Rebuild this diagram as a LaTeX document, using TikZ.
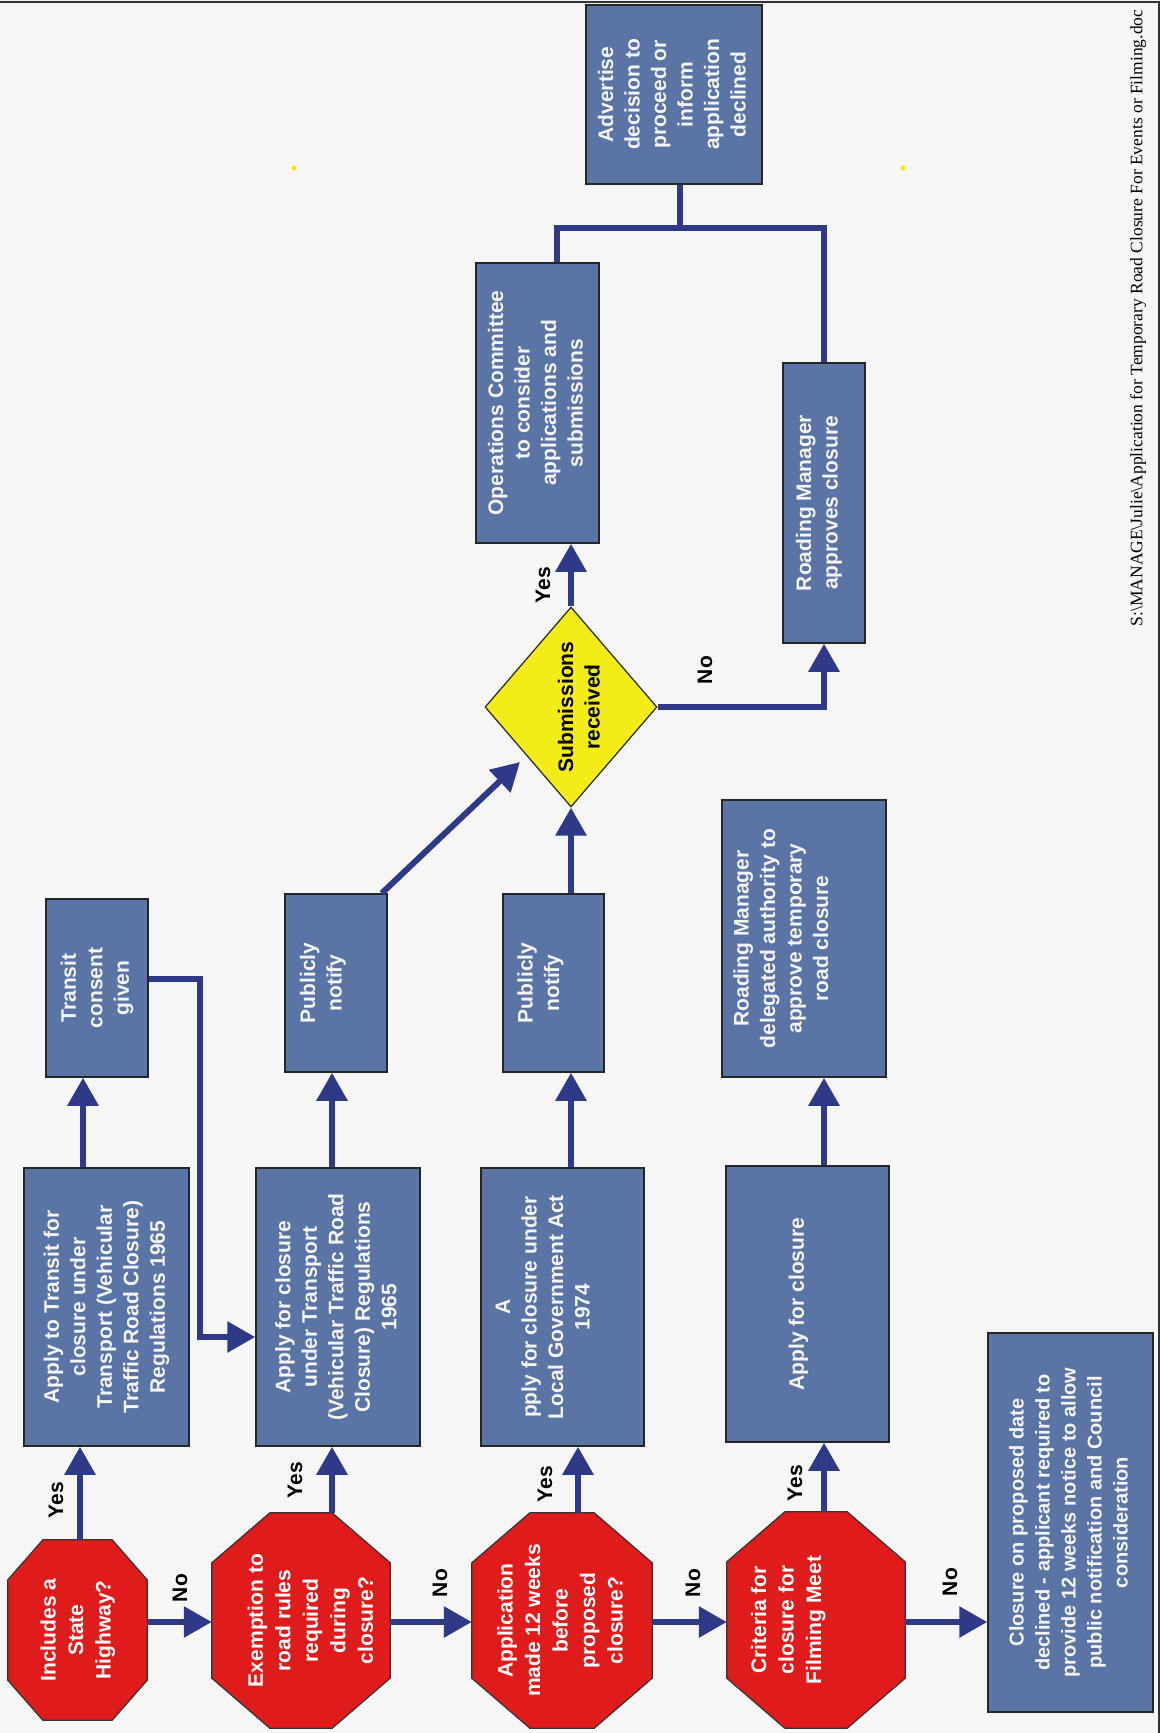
\documentclass[tikz,border=0pt]{standalone}
\usepackage{fontspec}
\setmainfont{Liberation Sans}
\newfontfamily\serifft{Liberation Serif}
\usepackage{graphicx}
\usetikzlibrary{arrows.meta,shapes.geometric,backgrounds,calc}
\definecolor{boxblue}{HTML}{5B74A6}
\definecolor{linecol}{HTML}{2E3A87}
\definecolor{octred}{HTML}{E01B1B}
\definecolor{diayel}{HTML}{F3EC19}
\definecolor{paper}{HTML}{F6F6F7}
\definecolor{txtw}{HTML}{F4F4F4}
\newcommand\rt[1]{\rotatebox{90}{\begin{tabular}{@{}c@{}}#1\end{tabular}}}
\newcommand\rtlow[2]{\rotatebox{90}{\raisebox{-#1}[\height][\depth]{\begin{tabular}{@{}c@{}}#2\end{tabular}}}}
\newcommand\octpath[3]{%
  \path[octshape] ([xshift=#2]#1.north west) -- ([xshift=-#2]#1.north east)
   -- ([yshift=-#3]#1.north east) -- ([yshift=#3]#1.south east)
   -- ([xshift=-#2]#1.south east) -- ([xshift=#2]#1.south west)
   -- ([yshift=#3]#1.south west) -- ([yshift=-#3]#1.north west) -- cycle;}
\tikzset{
  fbox/.style={rectangle, draw=black!85, line width=1.5pt, fill=boxblue, text=txtw,
    inner sep=0pt, font=\fontsize{21}{26.5}\selectfont\bfseries},
  oct/.style={rectangle, inner sep=0pt, text=white, font=\fontsize{21}{27.5}\selectfont\bfseries},
  octshape/.style={fill=octred, draw=black!80, line width=1.2pt},
  conn/.style={draw=linecol, line width=6pt},
  arr/.style={conn, -{Triangle[length=28pt,width=30pt]}},
  lbl/.style={inner sep=0pt, font=\fontsize{21}{25}\selectfont\bfseries, text=black},
}
\begin{document}
\begin{tikzpicture}[x=1pt,y=-1pt]
\useasboundingbox (0,0) rectangle (1160,1733);
\begin{pgfonlayer}{background}
\fill[paper] (0,0) rectangle (1160,1733);
\end{pgfonlayer}

% decision octagons
\node[oct, minimum width=139pt, minimum height=180pt] (o1) at (77.5,1630) {\rt{Includes a\\State\\Highway?}};
\node[oct, minimum width=178pt, minimum height=215pt] (o2) at (301,1620.5) {\rt{\\[-5pt]Exemption to\\road rules\\required\\during\\closure?}};
\node[oct, minimum width=180pt, minimum height=215pt] (o3) at (562,1620.5) {\rt{Application\\made 12 weeks\\before\\proposed\\closure?}};
\node[oct, minimum width=178pt, minimum height=216pt] (o4) at (816,1620) {\rt{Criteria for\\closure for\\Filming Meet\\[56pt]}};

% boxes
\node[fbox, minimum width=165pt, minimum height=379pt, font=\fontsize{20}{26}\selectfont\bfseries] (cl) at (1070.5,1522.5)
  {\rt{Closure on proposed date\\declined - applicant required to\\provide 12 weeks notice to allow\\public notification and Council\\consideration}};
\node[fbox, minimum width=165pt, minimum height=278pt] (a) at (106.5,1307)
  {\rt{Apply to Transit for\\closure under\\Transport (Vehicular\\Traffic Road Closure)\\Regulations 1965}};
\node[fbox, minimum width=102pt, minimum height=178pt] (t) at (97,988) {\rt{Transit\\consent\\given}};
\node[fbox, minimum width=164pt, minimum height=278pt] (b) at (338,1307)
  {\rt{Apply for closure\\under Transport\\(Vehicular Traffic Road\\Closure) Regulations\\1965}};
\node[fbox, minimum width=102pt, minimum height=178pt] (p1) at (336,983) {\rt{Publicly\\notify\\[26pt]}};
\node[fbox, minimum width=163pt, minimum height=278pt] (c) at (562.5,1307)
  {\rt{A\\pply for closure under\\Local Government Act\\1974\\[36pt]}};
\node[fbox, minimum width=101pt, minimum height=178pt] (p2) at (553.5,983) {\rt{Publicly\\notify\\[26pt]}};
\node[fbox, minimum width=163pt, minimum height=276pt] (d) at (807.5,1304) {\rt{Apply for closure\\[18pt]}};
\node[fbox, minimum width=164pt, minimum height=277pt] (rmd) at (804,938.5)
  {\rt{Roading Manager\\delegated authority to\\approve temporary\\road closure\\[42pt]}};
\node[diamond, aspect=0.86, draw=black!85, line width=1.2pt, fill=diayel, minimum width=172pt,
  minimum height=200pt, inner sep=0pt, text=black, font=\fontsize{21}{26.5}\selectfont\bfseries] (dia) at (571,707)
  {\rtlow{10pt}{Submissions\\received}};
\node[fbox, minimum width=123pt, minimum height=280pt] (ops) at (537.5,403)
  {\rt{Operations Committee\\to consider\\applications and\\submissions}};
\node[fbox, minimum width=82pt, minimum height=280pt] (rma) at (824,503)
  {\rt{Roading Manager\\approves closure\\[10pt]}};
\node[fbox, minimum width=176pt, minimum height=179pt] (adv) at (674,94.5)
  {\rt{Advertise\\decision to\\proceed or\\inform\\application\\declined}};

\begin{pgfonlayer}{background}
\octpath{o1}{35pt}{40pt}
\octpath{o2}{58pt}{50pt}
\octpath{o3}{58pt}{50pt}
\octpath{o4}{58pt}{50pt}
\end{pgfonlayer}

% helper lanes
\coordinate (xa) at (80,0);
\coordinate (xb) at (83,0);
\coordinate (xc) at (332,0);
\coordinate (xe) at (578,0);
\coordinate (xf) at (571,0);
\coordinate (xg) at (824,0);
\coordinate (h) at (0,1622);
\coordinate (k1) at (200,979);
\coordinate (k2) at (200,1337);
\coordinate (dtip) at (520,762);
\coordinate (q1) at (557,228);
\coordinate (q2) at (680,228);

% connectors
\draw[arr] (o1.north -| xa) -- (a.south -| xa);
\draw[arr] (o2.north -| xc) -- (b.south -| xc);
\draw[arr] (o3.north -| xe) -- (c.south -| xe);
\draw[arr] (o4.north -| xg) -- (d.south -| xg);
\draw[arr] (o1.east |- h) -- (o2.west |- h);
\draw[arr] (o2.east |- h) -- (o3.west |- h);
\draw[arr] (o3.east |- h) -- (o4.west |- h);
\draw[arr] (o4.east |- h) -- (cl.west |- h);
\draw[arr] (a.north -| xb) -- (t.south -| xb);
\draw[arr] (t.east |- k1) -- (k1) -- (k2) -- (b.west |- k2);
\draw[arr] (b.north -| xc) -- (p1.south -| xc);
\draw[arr] ([xshift=-6pt]p1.north east) -- (dtip);
\draw[arr] (c.north -| xf) -- (p2.south -| xf);
\draw[arr] (p2.north -| xf) -- (dia.south);
\draw[arr] (d.north -| xg) -- (rmd.south -| xg);
\draw[arr] (dia.north) -- (dia.north |- ops.south);
\draw[arr] (dia.east) -| (rma.south);
\draw[conn] (ops.north -| q1) -- (q1) -| (rma.north);
\draw[conn] (adv.south -| q2) -- (q2);

% labels
\node[lbl] (l1) at (56,1500) {\rotatebox{90}{Yes}};
\node[lbl] (l2) at (180,1588) {\rotatebox{90}{No}};
\node[lbl] (l3) at (295,1480) {\rotatebox{90}{Yes}};
\node[lbl] (l4) at (440,1583) {\rotatebox{90}{No}};
\node[lbl] (l5) at (545,1484) {\rotatebox{90}{Yes}};
\node[lbl] (l6) at (693,1583) {\rotatebox{90}{No}};
\node[lbl] (l7) at (795,1483) {\rotatebox{90}{Yes}};
\node[lbl] (l8) at (950,1582) {\rotatebox{90}{No}};
\node[lbl] (l9) at (543,585) {\rotatebox{90}{Yes}};
\node[lbl] (l10) at (705,670) {\rotatebox{90}{No}};

% footer path and frame
\node[inner sep=0pt, font=\serifft\fontsize{17.5}{20}\selectfont] (fp) at (1138,318)
  {\rotatebox{90}{S:\textbackslash MANAGE\textbackslash Julie\textbackslash Application for Temporary Road Closure For Events or Filming.doc}};
\draw[black!80, line width=2pt] (0,2) -- (1158.5,2) -- (1158.5,1733);
\fill[yellow!85!orange] (294,168) circle (2.5pt);
\fill[yellow!85!orange] (903,168) circle (2.5pt);
\end{tikzpicture}
\end{document}
